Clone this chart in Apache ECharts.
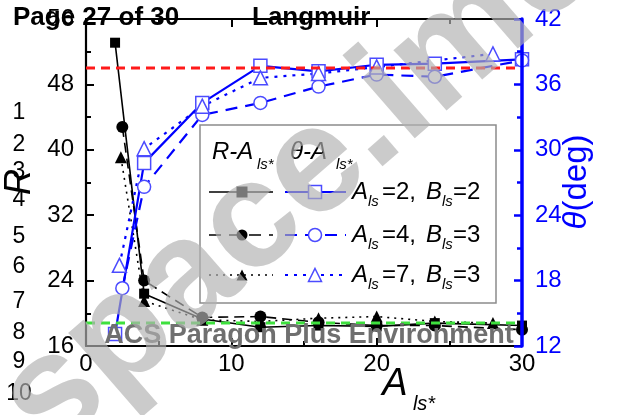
<!DOCTYPE html>
<html><head><meta charset="utf-8">
<script src="https://cdn.jsdelivr.net/npm/echarts@6/dist/echarts.min.js"></script>
<style>html,body{margin:0;padding:0;background:#fff}#c{width:620px;height:415px}</style>
</head><body><div id="c"></div>
<script>
// R versus A_ls* (left axis)
const rSqA = [2, 4, 8, 12, 16, 20, 24, 30];
const rSq  = [53.1, 22.4, 19.3, 18.3, 18.5, 18.4, 18.8, 18.5];
const rCiA = [2.5, 4, 8, 12, 16, 20, 24, 30];
const rCi  = [42.8, 24.0, 19.5, 19.6, 18.9, 18.5, 18.5, 18.0];
const rTrA = [2.4, 4, 8, 12, 16, 20, 24, 28];
const rTr  = [39.1, 21.5, 19.2, 19.0, 19.4, 19.6, 19.0, 18.8];
// contact angle theta versus A_ls* (right axis)
const tSqA = [2, 4, 8, 12, 16, 20, 24, 30];
const tSq  = [13.1, 28.8, 34.3, 37.7, 37.2, 37.8, 37.9, 38.3];
const tCiA = [2.5, 4, 8, 12, 16, 20, 24, 30];
const tCi  = [17.3, 26.6, 33.2, 34.3, 35.8, 36.9, 36.7, 38.2];
const tTrA = [2.3, 4, 8, 12, 16, 20, 28];
const tTr  = [19.4, 30.1, 34.0, 36.6, 37.0, 37.6, 38.8];
// horizontal reference levels on the R scale
const refR = [50, 18.8];
// axis ticks
const xTicks = [0, 10, 20, 30];
const rTicks = [16, 24, 32, 40, 48, 56];
const tTicks = [12, 18, 24, 30, 36, 42];
// parameter sets shown in the key
const paramA = ['2', '4', '7'];
const paramB = ['2', '3', '3'];

const zip = (xs, ys) => xs.map((x, i) => [x, ys[i]]);
const BLUE = '#0000ff', MBLUE = '#4b4bff';

const chart = echarts.init(document.getElementById('c'), null, {renderer: 'canvas'});

function rSeries(a, v, sym, size, dash) {
  return {type: 'line', yAxisIndex: 0, data: zip(a, v), symbol: sym, symbolSize: size,
    itemStyle: {color: '#000'}, lineStyle: {color: '#000', width: 1.6, type: dash},
    z: 3, animation: false};
}
function tSeries(a, v, sym, size, dash) {
  return {type: 'line', yAxisIndex: 1, data: zip(a, v), symbol: sym, symbolSize: size,
    itemStyle: {color: '#fff', borderColor: MBLUE, borderWidth: 1.5},
    lineStyle: {color: BLUE, width: 2.2, type: dash}, z: 4, animation: false};
}
const refColors = ['#ff1a1a', '#3ee03e'];
const refSeries = refR.map((v, i) => ({
  type: 'line', yAxisIndex: 0, data: [[xTicks[0], v], [xTicks[xTicks.length - 1], v]],
  symbol: 'none', lineStyle: {color: refColors[i], width: 3, type: [9, 6]}, z: 6, animation: false
}));

// ---- overlay graphics: page header, line numbers, key, axis titles, watermark
const G = [];
function txt(x, y, text, font, fill, align, opts) {
  G.push(Object.assign({type: 'text', x: x, y: y, z: 30, silent: true,
    style: {text: text, font: font, fill: fill, align: align || 'left', verticalAlign: 'middle',
      textAlign: align || 'left', textVerticalAlign: 'middle'}}, opts || {}));
}
txt(13, 18, 'Page 27 of 30', 'bold 26px Arial', '#000');
txt(252, 18, 'Langmuir', 'bold 26px Arial', '#000');
const lineNoY = [113, 145, 172, 200, 237, 267, 302, 333, 362, 394];
lineNoY.forEach((y, i) => txt(19, y, String(i + 1), '23px Arial', '#000', 'center'));

// key box
G.push({type: 'rect', z: 20, silent: true, shape: {x: 200, y: 125, width: 296, height: 178},
  style: {fill: '#fff', stroke: '#8c8c8c', lineWidth: 1.5}});
txt(212, 152, 'R-A', 'italic 24px Arial', '#000');
txt(257, 165, 'ls*', 'italic 15px Arial', '#000');
txt(290, 152, '\u03b8-A', 'italic 24px Arial', '#000');
txt(336, 165, 'ls*', 'italic 15px Arial', '#000');
const rowY = [192, 235, 275];
const rDash = [null, [12, 8], [2, 5]];
const tDash = [null, [12, 8], [3, 6]];
const keySym = ['rect', 'circle', 'triangle'];
function keyMarker(kind, cx, cy, s, fill, stroke) {
  const st = {fill: fill, stroke: stroke, lineWidth: stroke ? 1.5 : 0};
  if (kind === 'rect') G.push({type: 'rect', z: 22, silent: true, shape: {x: cx - s / 2, y: cy - s / 2, width: s, height: s}, style: st});
  else if (kind === 'circle') G.push({type: 'circle', z: 22, silent: true, shape: {cx: cx, cy: cy, r: s / 2}, style: st});
  else G.push({type: 'polygon', z: 22, silent: true, shape: {points: [[cx, cy - s / 2], [cx + s / 2, cy + s / 2], [cx - s / 2, cy + s / 2]]}, style: st});
}
rowY.forEach((y, i) => {
  G.push({type: 'line', z: 21, silent: true, shape: {x1: 209, y1: y, x2: 273, y2: y},
    style: {stroke: '#000', lineWidth: 1.6, lineDash: rDash[i]}});
  keyMarker(keySym[i], 242, y, 11, '#000', null);
  G.push({type: 'line', z: 21, silent: true, shape: {x1: 285, y1: y, x2: 346, y2: y},
    style: {stroke: BLUE, lineWidth: 2.2, lineDash: tDash[i]}});
  keyMarker(keySym[i], 315, y, 13, '#fff', MBLUE);
  txt(352, y, 'A', 'italic 24px Arial', '#000');
  txt(368, y + 10, 'ls', 'italic 15px Arial', '#000');
  txt(382, y, '=' + paramA[i] + ',', '24px Arial', '#000');
  txt(426, y, 'B', 'italic 24px Arial', '#000');
  txt(442, y + 10, 'ls', 'italic 15px Arial', '#000');
  txt(453, y, '=' + paramB[i], '24px Arial', '#000');
});

// axis titles
txt(20, 182, 'R', 'italic 36px Arial', '#000', 'center', {rotation: Math.PI / 2});
G.push({type: 'text', x: 577, y: 182, z: 30, silent: true, rotation: Math.PI / 2,
  style: {text: '{i|\u03b8}{n|(deg)}', align: 'center', verticalAlign: 'middle', textAlign: 'center', textVerticalAlign: 'middle',
    rich: {i: {font: 'italic 33px Arial', fill: BLUE, color: BLUE}, n: {font: '33px Arial', fill: BLUE, color: BLUE}}}});
txt(395, 384, 'A', 'italic 38px Arial', '#000', 'center');
txt(424, 404, 'ls*', 'italic 20px Arial', '#000', 'center');

// footer and watermark
txt(309, 336, 'ACS Paragon Plus Environment', 'bold 27px Arial', '#6f6f6f', 'center', {z: 40});
G.push({type: 'text', x: 22, y: 424, z: 100, silent: true, rotation: 41 * Math.PI / 180,
  style: {text: 'space.ime', font: 'bold 152px Arial', fill: 'rgba(178,178,178,0.67)',
    align: 'left', verticalAlign: 'middle', textAlign: 'left', textVerticalAlign: 'middle'}});

const axisFont = {fontFamily: 'Arial', fontSize: 24};
const option = {
  animation: false,
  backgroundColor: '#fff',
  grid: {left: 86, right: 98, top: 19, bottom: 69, containLabel: false},
  xAxis: [
    {type: 'value', position: 'bottom', min: xTicks[0], max: xTicks[xTicks.length - 1], interval: xTicks[1] - xTicks[0],
      axisLine: {onZero: false, lineStyle: {color: '#000', width: 2.2}},
      axisTick: {inside: true, length: 8, lineStyle: {color: '#000', width: 2}},
      minorTick: {show: true, splitNumber: 2, length: 5, lineStyle: {color: '#000', width: 2}},
      splitLine: {show: false},
      axisLabel: Object.assign({color: '#000', margin: 6}, axisFont)},
    {type: 'value', position: 'top', min: xTicks[0], max: xTicks[xTicks.length - 1], interval: xTicks[1] - xTicks[0],
      axisLine: {onZero: false, lineStyle: {color: '#000', width: 2}},
      axisTick: {inside: true, length: 8, lineStyle: {color: '#000', width: 2}},
      minorTick: {show: true, splitNumber: 2, length: 5, lineStyle: {color: '#000', width: 2}},
      splitLine: {show: false}, axisLabel: {show: false}}
  ],
  yAxis: [
    {type: 'value', position: 'left', min: rTicks[0], max: rTicks[rTicks.length - 1], interval: rTicks[1] - rTicks[0],
      axisLine: {show: true, onZero: false, lineStyle: {color: '#000', width: 2.2}},
      axisTick: {show: true, inside: true, length: 8, lineStyle: {color: '#000', width: 2}},
      minorTick: {show: true, splitNumber: 2, length: 5, lineStyle: {color: '#000', width: 2}},
      splitLine: {show: false},
      axisLabel: Object.assign({color: '#000', margin: 12}, axisFont)},
    {type: 'value', position: 'right', min: tTicks[0], max: tTicks[tTicks.length - 1], interval: tTicks[1] - tTicks[0], z: 10,
      axisLine: {show: true, onZero: false, lineStyle: {color: BLUE, width: 3.5}},
      axisTick: {show: true, inside: true, length: 8, lineStyle: {color: BLUE, width: 2.5}},
      minorTick: {show: true, splitNumber: 2, length: 5, lineStyle: {color: BLUE, width: 2.5}},
      splitLine: {show: false},
      axisLabel: Object.assign({color: BLUE, margin: 13}, axisFont)}
  ],
  series: [
    rSeries(rSqA, rSq, 'rect', 10, 'solid'),
    rSeries(rCiA, rCi, 'circle', 12, [10, 6]),
    rSeries(rTrA, rTr, 'triangle', 12, [2, 5]),
    tSeries(tSqA, tSq, 'rect', 13, 'solid'),
    tSeries(tCiA, tCi, 'circle', 13, [12, 8]),
    tSeries(tTrA, tTr, 'triangle', 14, [3, 6])
  ].concat(refSeries),
  graphic: {elements: G}
};
chart.setOption(option);
</script></body></html>
